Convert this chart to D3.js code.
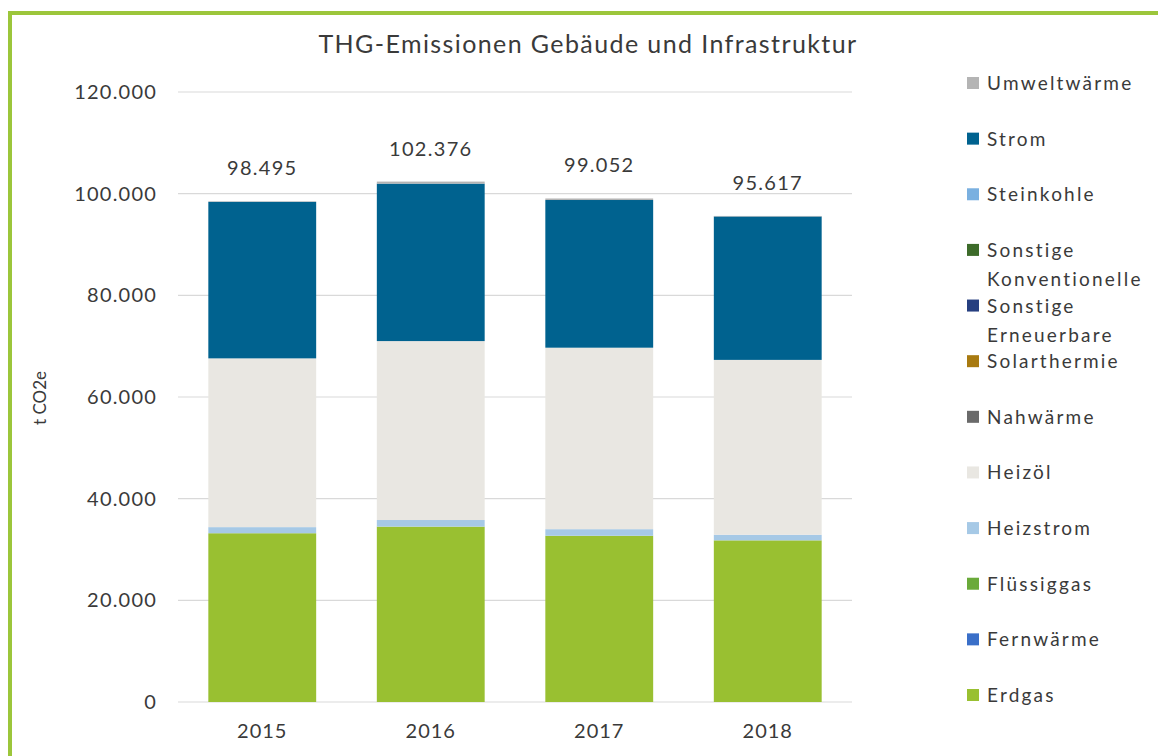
<!DOCTYPE html>
<html><head><meta charset="utf-8">
<script src="https://cdn.jsdelivr.net/npm/d3@7"></script>
<style>
body{margin:0;background:#fff;}
svg{display:block;font-family:Lato, "Open Sans", sans-serif;}
</style></head>
<body><svg id="c" width="1158" height="756"></svg>
<script>
const years = ["2015","2016","2017","2018"];
const seriesNames = ["Erdgas","Fernwärme","Flüssiggas","Heizstrom","Heizöl","Nahwärme","Solarthermie","Sonstige Erneuerbare","Sonstige Konventionelle","Steinkohle","Strom","Umweltwärme"];
const legendLabels = [["Erdgas"],["Fernwärme"],["Flüssiggas"],["Heizstrom"],["Heizöl"],["Nahwärme"],["Solarthermie"],["Sonstige","Erneuerbare"],["Sonstige","Konventionelle"],["Steinkohle"],["Strom"],["Umweltwärme"]];
const colors = ["#99c031","#3a6fc8","#6aaa3a","#a6c9e6","#e9e7e2","#6a6a6a","#a87a10","#263f80","#3d6b2a","#7ab0e0","#00628f","#b4b4b4"];
const erdgas      = [33200, 34500, 32700, 31800];
const fernwaerme  = [0, 0, 0, 0];
const fluessiggas = [0, 0, 0, 0];
const heizstrom   = [1200, 1300, 1300, 1100];
const heizoel     = [33200, 35200, 35700, 34400];
const nahwaerme   = [0, 0, 0, 0];
const solarthermie= [0, 0, 0, 0];
const sonstErn    = [0, 0, 0, 0];
const sonstKonv   = [0, 0, 0, 0];
const steinkohle  = [0, 0, 0, 0];
const strom       = [30795, 30976, 29052, 28217];
const umweltwaerme= [100, 400, 300, 100];
const totals      = [98495, 102376, 99052, 95617];
const yTicks      = [0, 20000, 40000, 60000, 80000, 100000, 120000];

const seriesValues = [erdgas,fernwaerme,fluessiggas,heizstrom,heizoel,nahwaerme,solarthermie,sonstErn,sonstKonv,steinkohle,strom,umweltwaerme];
const table = years.map((y,i)=>{const o={year:y}; seriesNames.forEach((s,k)=>o[s]=seriesValues[k][i]); return o;});
const stacked = d3.stack().keys(seriesNames)(table);

const svg = d3.select("#c");
const fmt = v => d3.format(",")(v).replace(/,/g,".");
const txt = "#3a3a3a";

// green frame
svg.append("path").attr("d","M10,760 L10,13 L1160,13").attr("fill","none").attr("stroke","#9cc63b").attr("stroke-width",4);

const x = d3.scaleBand().domain(years).range([178,852]).paddingInner(0.36).paddingOuter(0.18);
const y = d3.scaleLinear().domain([0,120000]).range([702,92]);

// grid
svg.append("g").selectAll("line").data(yTicks).join("line")
  .attr("x1",178).attr("x2",852).attr("y1",d=>y(d)).attr("y2",d=>y(d))
  .attr("stroke","#d9d9d9").attr("stroke-width",1.2);

// y axis
const yAxis = svg.append("g").attr("transform","translate(172,0)")
  .call(d3.axisLeft(y).tickValues(yTicks).tickSize(0).tickPadding(15).tickFormat(fmt));
yAxis.select(".domain").remove();
yAxis.selectAll("text").attr("font-size",20).attr("fill",txt).attr("font-family","Lato").attr("letter-spacing",1.2);

// x axis
const xAxis = svg.append("g").attr("transform","translate(0,702)")
  .call(d3.axisBottom(x).tickSize(0).tickPadding(22));
xAxis.select(".domain").remove();
xAxis.selectAll("text").attr("font-size",20).attr("fill",txt).attr("font-family","Lato").attr("letter-spacing",1);

// bars
svg.append("g").selectAll("g").data(stacked).join("g")
  .attr("fill",(d,i)=>colors[i])
  .selectAll("rect").data(d=>d).join("rect")
  .attr("x",d=>x(d.data.year)).attr("width",x.bandwidth())
  .attr("y",d=>y(d[1])).attr("height",d=>Math.max(0,y(d[0])-y(d[1])));

// totals
svg.append("g").selectAll("text").data(years).join("text")
  .attr("x",d=>x(d)+x.bandwidth()/2).attr("y",(d,i)=>y(totals[i])-26)
  .attr("text-anchor","middle").attr("font-size",20).attr("fill",txt).attr("letter-spacing",1.3)
  .text((d,i)=>fmt(totals[i]));

// title
svg.append("text").attr("x",588).attr("y",53).attr("text-anchor","middle")
  .attr("font-size",25).attr("fill",txt).attr("letter-spacing",1.4).text("THG-Emissionen Gebäude und Infrastruktur");

// y title
svg.append("text").attr("transform","translate(46,398) rotate(-90)").attr("text-anchor","middle")
  .attr("font-size",17).attr("fill",txt).text("t CO2e");

// legend
const legY = d3.scaleLinear().domain([0,11]).range([695,83]);
const leg = svg.append("g").selectAll("g").data(seriesNames).join("g")
  .attr("transform",(d,i)=>`translate(967,${legY(i)})`);
leg.append("rect").attr("x",0).attr("y",-6).attr("width",12).attr("height",12).attr("fill",(d,i)=>colors[i]);
leg.append("text").attr("x",20).attr("y",7).attr("font-size",19).attr("fill",txt).attr("letter-spacing",2.2)
  .selectAll("tspan").data((d,i)=>legendLabels[i]).join("tspan")
  .attr("x",20).attr("dy",(d,j)=>j===0?0:29).text(d=>d);
</script></body></html>
